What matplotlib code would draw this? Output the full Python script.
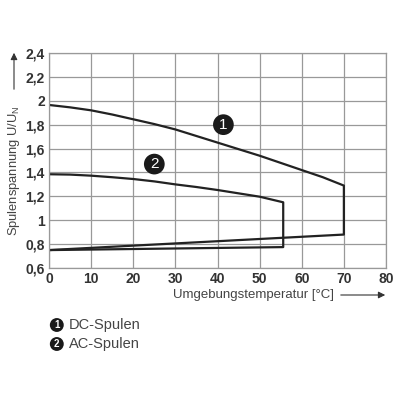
import matplotlib
matplotlib.use('Agg')
import matplotlib.pyplot as plt

plt.rcParams['font.family'] = ['Liberation Sans', 'DejaVu Sans']

# curve 1: DC coils (upper edge, then lower edge)
dc_upper_x = [0, 5, 10, 15, 20, 25, 30, 35, 40, 45, 50, 55, 60, 65, 70]
dc_upper_y = [1.965, 1.945, 1.92, 1.885, 1.845, 1.805, 1.76, 1.705, 1.65,
              1.595, 1.54, 1.48, 1.42, 1.36, 1.29]
dc_lower_x = [70, 0]
dc_lower_y = [0.88, 0.75]

# curve 2: AC coils
ac_upper_x = [0, 5, 10, 15, 20, 25, 30, 35, 40, 45, 50, 55.6]
ac_upper_y = [1.385, 1.382, 1.373, 1.36, 1.345, 1.325, 1.30, 1.278, 1.253,
              1.225, 1.197, 1.15]
ac_lower_x = [55.6, 0]
ac_lower_y = [0.775, 0.75]

xticks = [0, 10, 20, 30, 40, 50, 60, 70, 80]
yticks = [0.6, 0.8, 1.0, 1.2, 1.4, 1.6, 1.8, 2.0, 2.2, 2.4]
ylabels = ['0,6', '0,8', '1', '1,2', '1,4', '1,6', '1,8', '2', '2,2', '2,4']

fig = plt.figure(figsize=(4, 4), dpi=100)
ax = fig.add_axes([0.1225, 0.33, 0.8425, 0.5375])

dc_x = dc_upper_x + dc_lower_x
dc_y = dc_upper_y + dc_lower_y
ac_x = ac_upper_x + ac_lower_x
ac_y = ac_upper_y + ac_lower_y
ax.plot(dc_x, dc_y, color='#222222', lw=1.6, solid_joinstyle='round')
ax.plot(ac_x, ac_y, color='#222222', lw=1.6, solid_joinstyle='round')

ax.set_xlim(0, 80)
ax.set_ylim(0.6, 2.4)
ax.set_xticks(xticks)
ax.set_yticks(yticks)
ax.set_yticklabels(ylabels)
ax.grid(True, color='#999999', lw=0.9)
ax.tick_params(length=0, labelsize=10, pad=3)
for lab in ax.get_xticklabels() + ax.get_yticklabels():
    lab.set_fontweight('bold')
    lab.set_color('#333333')
for s in ax.spines.values():
    s.set_color('#999999')
    s.set_linewidth(0.9)

# circled labels
circ = dict(boxstyle='circle,pad=0.22', fc='#1a1a1a', ec='none')
ax.text(41.4, 1.80, '1', ha='center', va='center', color='white', fontsize=11,
        bbox=circ)
ax.text(25, 1.47, '2', ha='center', va='center', color='white', fontsize=11,
        bbox=circ)

# axis labels with arrows
fig.text(0.035, 0.5725, 'Spulenspannung U/U$_\\mathregular{N}$', rotation=90,
         ha='center', va='center', fontsize=9.3, color='#444444')
fig.add_artist(matplotlib.patches.FancyArrowPatch((0.035, 0.77), (0.035, 0.875),
               transform=fig.transFigure, arrowstyle='-|>', mutation_scale=10,
               color='#333333', lw=0.8))
fig.text(0.432, 0.2625, 'Umgebungstemperatur [°C]', ha='left', va='center',
         fontsize=9.5, color='#444444')
fig.add_artist(matplotlib.patches.FancyArrowPatch((0.845, 0.2625), (0.97, 0.2625),
               transform=fig.transFigure, arrowstyle='-|>', mutation_scale=10,
               color='#333333', lw=0.8))

# legend
lcirc = dict(boxstyle='circle,pad=0.2', fc='#1a1a1a', ec='none')
fig.text(0.142, 0.1875, '1', ha='center', va='center', color='white', fontsize=7,
         fontweight='bold', bbox=lcirc)
fig.text(0.172, 0.1875, 'DC-Spulen', ha='left', va='center', fontsize=10.5,
         color='#444444')
fig.text(0.142, 0.14, '2', ha='center', va='center', color='white', fontsize=7,
         fontweight='bold', bbox=lcirc)
fig.text(0.172, 0.14, 'AC-Spulen', ha='left', va='center', fontsize=10.5,
         color='#444444')

fig.savefig('out.png', dpi=100)
